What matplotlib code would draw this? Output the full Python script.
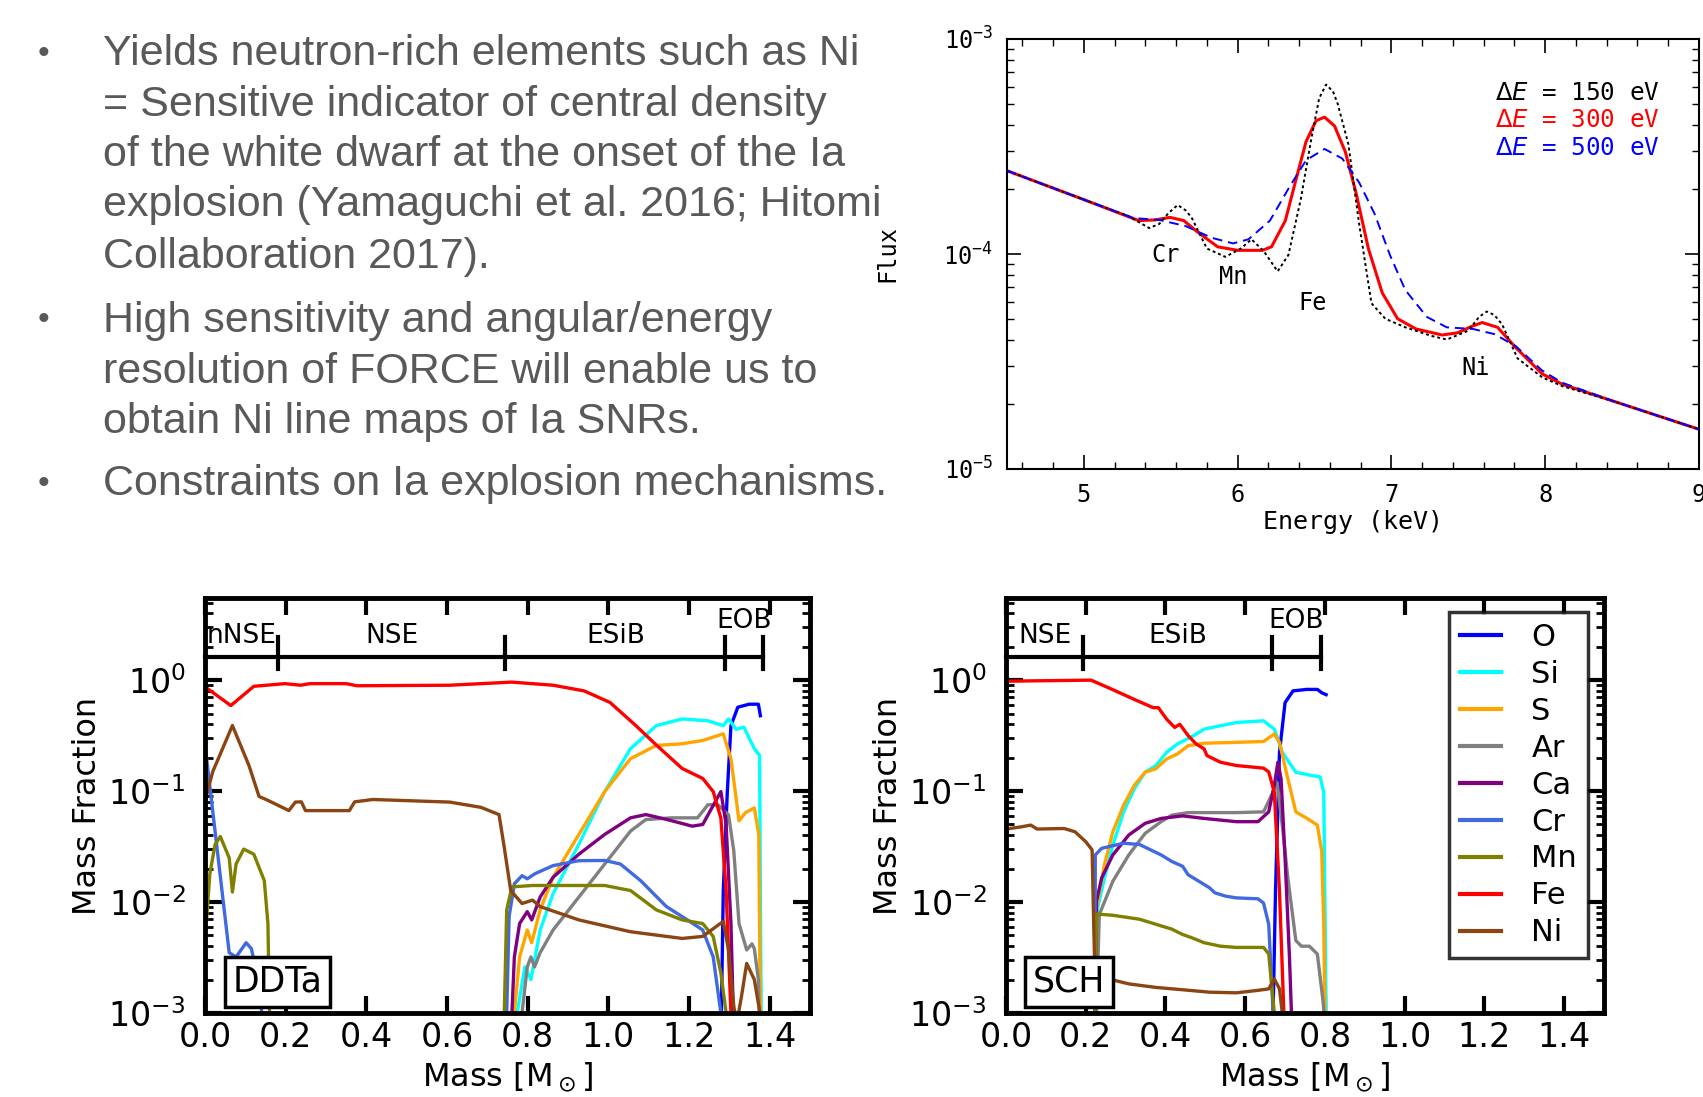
import matplotlib
matplotlib.use('Agg')
import matplotlib.pyplot as plt
from matplotlib.ticker import MultipleLocator, LogLocator, NullFormatter

# ---- bullet text ----
bullet_lines = [
    ["Yields neutron-rich elements such as Ni",
     "= Sensitive indicator of central density",
     "of the white dwarf at the onset of the Ia",
     "explosion (Yamaguchi et al. 2016; Hitomi",
     "Collaboration 2017)."],
    ["High sensitivity and angular/energy",
     "resolution of FORCE will enable us to",
     "obtain Ni line maps of Ia SNRs."],
    ["Constraints on Ia explosion mechanisms."],
]

# ---- spectrum (Flux in units of 1e-4) ----
e_150 = [4.5, 5.0, 5.29, 5.425, 5.49, 5.55, 5.61, 5.66, 5.70, 5.80, 5.92, 6.02, 6.09, 6.17, 6.26,
         6.33, 6.41, 6.48, 6.53, 6.575, 6.62, 6.65, 6.72, 6.79, 6.87, 6.96, 7.09, 7.26, 7.36, 7.50,
         7.57, 7.62, 7.67, 7.72, 7.82, 7.98, 8.11, 8.45, 9.0]
f_150 = [2.44, 1.79, 1.50, 1.32, 1.38, 1.55, 1.69, 1.60, 1.48, 1.06, 0.97, 1.06, 1.17, 1.03, 0.83,
         0.99, 1.79, 3.47, 5.3, 6.14, 5.7, 5.01, 3.24, 1.38, 0.59, 0.50, 0.456, 0.416, 0.40, 0.44,
         0.51, 0.54, 0.52, 0.47, 0.327, 0.267, 0.243, 0.206, 0.153]
e_300 = [4.5, 5.0, 5.357, 5.46, 5.56, 5.65, 5.73, 5.87, 6.00, 6.16, 6.22, 6.31, 6.38, 6.445, 6.51,
         6.565, 6.63, 6.70, 6.77, 6.85, 6.94, 7.04, 7.16, 7.33, 7.43, 7.52, 7.59, 7.69, 7.81, 7.98,
         8.11, 8.45, 9.0]
f_300 = [2.44, 1.79, 1.43, 1.44, 1.48, 1.43, 1.28, 1.08, 1.04, 1.04, 1.08, 1.43, 2.23, 3.34, 4.17,
         4.33, 3.94, 2.99, 1.92, 1.06, 0.66, 0.50, 0.448, 0.42, 0.43, 0.46, 0.48, 0.456, 0.366, 0.277,
         0.248, 0.206, 0.153]
e_500 = [4.5, 5.0, 5.32, 5.49, 5.66, 5.83, 5.97, 6.07, 6.21, 6.34, 6.445, 6.565, 6.68, 6.79, 6.89,
         6.99, 7.09, 7.23, 7.36, 7.53, 7.67, 7.81, 7.98, 8.11, 8.45, 9.0]
f_500 = [2.44, 1.79, 1.47, 1.44, 1.35, 1.19, 1.12, 1.17, 1.43, 2.07, 2.73, 3.08, 2.78, 2.15, 1.54,
         0.99, 0.68, 0.51, 0.456, 0.448, 0.424, 0.372, 0.287, 0.252, 0.206, 0.153]
line_names = ["Cr", "Mn", "Fe", "Ni"]
line_name_e = [5.53, 5.97, 6.49, 7.55]
line_name_f = [0.99, 0.78, 0.59, 0.295]

# ---- mass fractions, DDTa ----
ddt_o_m = [1.279, 1.285, 1.295, 1.304, 1.321, 1.349, 1.372, 1.377]
ddt_o_x = [0.0005, 0.0127, 0.099, 0.389, 0.57, 0.607, 0.607, 0.478]
ddt_si_m = [0.772, 0.774, 0.793, 0.808, 0.831, 0.863, 0.927, 0.991, 1.055, 1.119, 1.183, 1.247,
            1.285, 1.298, 1.317, 1.336, 1.362, 1.375, 1.378, 1.38]
ddt_si_x = [0.0005, 0.001, 0.0026, 0.002, 0.0056, 0.0119, 0.0332, 0.099, 0.241, 0.389, 0.447, 0.43,
            0.389, 0.447, 0.36, 0.377, 0.241, 0.21, 0.003, 0.0005]
ddt_s_m = [0.765, 0.767, 0.78, 0.799, 0.81, 0.831, 0.863, 0.927, 0.991, 1.055, 1.119, 1.183,
           1.234, 1.285, 1.304, 1.324, 1.34, 1.362, 1.373, 1.376, 1.378]
ddt_s_x = [0.0005, 0.001, 0.0032, 0.0056, 0.0043, 0.0085, 0.0167, 0.0407, 0.099, 0.196, 0.258,
           0.267, 0.286, 0.328, 0.196, 0.054, 0.064, 0.0705, 0.0407, 0.002, 0.0005]
ddt_ar_m = [0.784, 0.786, 0.799, 0.808, 0.817, 0.831, 0.863, 0.927, 0.991, 1.055, 1.093, 1.157,
            1.221, 1.247, 1.272, 1.298, 1.311, 1.324, 1.343, 1.356, 1.362, 1.372, 1.376]
ddt_ar_x = [0.0005, 0.001, 0.0026, 0.0032, 0.0026, 0.0035, 0.0056, 0.0111, 0.022, 0.0436, 0.0554,
            0.0574, 0.0574, 0.0754, 0.075, 0.061, 0.029, 0.0064, 0.0037, 0.0042, 0.0038, 0.002, 0.0005]
ddt_ca_m = [0.759, 0.761, 0.767, 0.78, 0.799, 0.81, 0.831, 0.863, 0.927, 0.991, 1.055, 1.093,
            1.145, 1.208, 1.234, 1.279, 1.292, 1.304, 1.312]
ddt_ca_x = [0.0005, 0.001, 0.0032, 0.0064, 0.0082, 0.0069, 0.0111, 0.0167, 0.027, 0.0407, 0.0574,
            0.0614, 0.0555, 0.0483, 0.05, 0.099, 0.05, 0.0064, 0.0005]
ddt_cr_m = [0.0, 0.004, 0.06, 0.077, 0.102, 0.115, 0.128, 0.141, 0.15,
            0.745, 0.748, 0.754, 0.767, 0.786, 0.799, 0.818, 0.863, 0.927, 0.991, 1.03, 1.08,
            1.144, 1.196, 1.234, 1.26, 1.279, 1.285]
ddt_cr_x = [0.22, 0.196, 0.0035, 0.0032, 0.0043, 0.0038, 0.0023, 0.001, 0.0005,
            0.0005, 0.001, 0.0074, 0.0146, 0.0173, 0.0162, 0.018, 0.0213, 0.0236, 0.0237, 0.022,
            0.0156, 0.0091, 0.0069, 0.0056, 0.0032, 0.001, 0.0005]
ddt_mn_m = [0.0, 0.004, 0.012, 0.025, 0.038, 0.06, 0.068, 0.077, 0.096, 0.121, 0.147, 0.156,
            0.16, 0.165,
            0.738, 0.742, 0.748, 0.761, 0.812, 0.991, 1.055, 1.119, 1.183, 1.234, 1.26, 1.279,
            1.292, 1.298]
ddt_mn_x = [0.02, 0.007, 0.018, 0.033, 0.039, 0.025, 0.0123, 0.022, 0.030, 0.027, 0.0156, 0.0064,
            0.001, 0.0005,
            0.0005, 0.001, 0.0085, 0.0137, 0.0141, 0.0141, 0.0127, 0.0085, 0.0069, 0.0064, 0.0049,
            0.0023, 0.001, 0.0005]
ddt_fe_m = [0.0, 0.006, 0.064, 0.121, 0.198, 0.237, 0.26, 0.35, 0.377, 0.607, 0.761, 0.863, 0.94,
            1.004, 1.068, 1.119, 1.183, 1.234, 1.26, 1.279, 1.292, 1.304, 1.31]
ddt_fe_x = [0.88, 0.84, 0.59, 0.88, 0.93, 0.90, 0.93, 0.93, 0.89, 0.90, 0.96, 0.90, 0.80, 0.63,
            0.39, 0.26, 0.16, 0.13, 0.099, 0.057, 0.0127, 0.001, 0.0005]
ddt_ni_m = [0.0, 0.006, 0.019, 0.068, 0.109, 0.134, 0.153, 0.208, 0.224, 0.239, 0.249, 0.358,
            0.371, 0.416, 0.607, 0.684, 0.729, 0.742, 0.758, 0.786, 0.812, 0.831, 0.927, 1.055,
            1.183, 1.234, 1.285, 1.298, 1.311, 1.318, 1.330, 1.343, 1.362, 1.375, 1.38]
ddt_ni_x = [0.08, 0.099, 0.149, 0.39, 0.17, 0.0895, 0.0835, 0.0667, 0.0796, 0.08, 0.0667, 0.0667,
            0.080, 0.084, 0.0796, 0.0714, 0.0614, 0.031, 0.0127, 0.0097, 0.0104, 0.0091, 0.0069,
            0.0054, 0.0047, 0.0049, 0.0067, 0.0037, 0.00116, 0.0008, 0.0014, 0.0028, 0.002,
            0.00105, 0.0005]
ddt_regions = ["nNSE", "NSE", "ESiB", "EOB"]
ddt_region_edges = [0.0, 0.182, 0.745, 1.29, 1.384]

# ---- mass fractions, SCH ----
sch_o_m = [0.669, 0.67, 0.676, 0.686, 0.70, 0.72, 0.754, 0.781, 0.792, 0.803]
sch_o_x = [0.0005, 0.001, 0.0125, 0.224, 0.627, 0.80, 0.825, 0.825, 0.77, 0.74]
sch_si_m = [0.226, 0.227, 0.23, 0.247, 0.268, 0.295, 0.322, 0.349, 0.376, 0.403, 0.43, 0.47,
            0.497, 0.578, 0.646, 0.673, 0.693, 0.727, 0.768, 0.788, 0.797, 0.803, 0.805]
sch_si_x = [0.0005, 0.001, 0.0089, 0.0164, 0.0327, 0.065, 0.105, 0.148, 0.17, 0.224, 0.266, 0.315,
            0.362, 0.415, 0.43, 0.362, 0.224, 0.148, 0.138, 0.134, 0.098, 0.001, 0.0005]
sch_s_m = [0.222, 0.223, 0.227, 0.247, 0.268, 0.295, 0.322, 0.349, 0.376, 0.403, 0.43, 0.457,
           0.497, 0.578, 0.646, 0.673, 0.686, 0.707, 0.727, 0.754, 0.781, 0.792, 0.797, 0.8, 0.802]
sch_s_x = [0.0005, 0.001, 0.0089, 0.0217, 0.043, 0.0746, 0.113, 0.148, 0.159, 0.195, 0.216, 0.257,
           0.27, 0.275, 0.28, 0.327, 0.275, 0.129, 0.065, 0.057, 0.0494, 0.0286, 0.0063, 0.001, 0.0005]
sch_ar_m = [0.226, 0.227, 0.234, 0.268, 0.308, 0.349, 0.389, 0.416, 0.457, 0.578, 0.646, 0.666,
            0.68, 0.693, 0.707, 0.727, 0.741, 0.761, 0.781, 0.795, 0.798, 0.8]
sch_ar_x = [0.0005, 0.001, 0.0077, 0.0154, 0.0266, 0.0416, 0.053, 0.0607, 0.064, 0.064, 0.065,
            0.0917, 0.12, 0.049, 0.0165, 0.0045, 0.004, 0.004, 0.0034, 0.0013, 0.001, 0.0005]
sch_ca_m = [0.222, 0.223, 0.227, 0.24, 0.268, 0.308, 0.349, 0.389, 0.443, 0.497, 0.578, 0.632,
            0.659, 0.673, 0.682, 0.69, 0.70, 0.711, 0.716, 0.718]
sch_ca_x = [0.0005, 0.001, 0.0102, 0.0165, 0.0266, 0.0402, 0.0512, 0.0567, 0.0598, 0.0567, 0.053,
            0.053, 0.065, 0.113, 0.182, 0.129, 0.0248, 0.0032, 0.001, 0.0005]
sch_cr_m = [0.222, 0.223, 0.224, 0.24, 0.295, 0.335, 0.389, 0.416, 0.443, 0.457, 0.47, 0.497,
            0.511, 0.524, 0.551, 0.578, 0.632, 0.646, 0.659, 0.67, 0.672]
sch_cr_x = [0.0005, 0.001, 0.0266, 0.0305, 0.0339, 0.033, 0.0266, 0.0232, 0.021, 0.0176, 0.0165,
            0.0144, 0.0134, 0.0121, 0.0113, 0.0109, 0.0107, 0.0098, 0.0063, 0.001, 0.0005]
sch_mn_m = [0.222, 0.223, 0.227, 0.268, 0.335, 0.389, 0.416, 0.443, 0.464, 0.497, 0.538, 0.578,
            0.646, 0.659, 0.673, 0.675]
sch_mn_x = [0.0005, 0.001, 0.0078, 0.0076, 0.007, 0.0061, 0.0057, 0.0051, 0.0048, 0.0043, 0.004,
            0.0039, 0.0039, 0.0034, 0.001, 0.0005]
sch_fe_m = [0.0, 0.011, 0.2135, 0.268, 0.322, 0.369, 0.382, 0.403, 0.423, 0.436, 0.457, 0.477,
            0.497, 0.504, 0.538, 0.578, 0.646, 0.659, 0.673, 0.686, 0.697, 0.70]
sch_fe_x = [0.98, 0.98, 1.0, 0.82, 0.67, 0.565, 0.565, 0.445, 0.375, 0.40, 0.316, 0.266, 0.24,
            0.209, 0.182, 0.17, 0.161, 0.149, 0.098, 0.0125, 0.001, 0.0005]
sch_ni_m = [0.0, 0.038, 0.062, 0.078, 0.146, 0.173, 0.2, 0.216, 0.22, 0.223, 0.24, 0.308, 0.376,
            0.443, 0.511, 0.578, 0.632, 0.659, 0.673, 0.686, 0.693, 0.696]
sch_ni_x = [0.0455, 0.0476, 0.0494, 0.0455, 0.046, 0.043, 0.035, 0.0295, 0.0063, 0.00225, 0.0021,
            0.00183, 0.0017, 0.00162, 0.00154, 0.00152, 0.0016, 0.00165, 0.00203, 0.00165, 0.001,
            0.0005]
sch_regions = ["NSE", "ESiB", "EOB"]
sch_region_edges = [0.0, 0.194, 0.667, 0.79]

species = ["O", "Si", "S", "Ar", "Ca", "Cr", "Mn", "Fe", "Ni"]
colors = ["#0000ff", "#00ffff", "#ffa500", "#808080", "#800080", "#4169e1", "#808000", "#ff0000",
          "#8b4513"]

ddt_data = [(ddt_o_m, ddt_o_x), (ddt_si_m, ddt_si_x), (ddt_s_m, ddt_s_x), (ddt_ar_m, ddt_ar_x),
            (ddt_ca_m, ddt_ca_x), (ddt_cr_m, ddt_cr_x), (ddt_mn_m, ddt_mn_x), (ddt_fe_m, ddt_fe_x),
            (ddt_ni_m, ddt_ni_x)]
sch_data = [(sch_o_m, sch_o_x), (sch_si_m, sch_si_x), (sch_s_m, sch_s_x), (sch_ar_m, sch_ar_x),
            (sch_ca_m, sch_ca_x), (sch_cr_m, sch_cr_x), (sch_mn_m, sch_mn_x), (sch_fe_m, sch_fe_x),
            (sch_ni_m, sch_ni_x)]

fig = plt.figure(figsize=(17.03, 10.97), dpi=100)

# ---- bullets ----
text_color = "#595959"
line_y = [[54, 105, 155, 205, 257], [321, 372, 422], [484]]
for para, ys in zip(bullet_lines, line_y):
    fig.text(38 / 1703, 1 - ys[0] / 1097, "\u2022", fontsize=24, color=text_color,
             family="Liberation Sans", va="center")
    for txt, y in zip(para, ys):
        fig.text(103 / 1703, 1 - y / 1097, txt, fontsize=31, color=text_color,
                 family="Liberation Sans", va="center")

# ---- spectrum ----
mono = "DejaVu Sans Mono"
ax = fig.add_axes([1007 / 1703, 1 - 469 / 1097, 692 / 1703, 430 / 1097])
ax.plot(e_300, [v * 1e-4 for v in f_300], color="red", lw=2.2, zorder=2)
ax.plot(e_150, [v * 1e-4 for v in f_150], color="black", ls=(0, (1.5, 1.5)), lw=1.4, zorder=3)
ax.plot(e_500, [v * 1e-4 for v in f_500], color="blue", ls=(0, (5, 3)), lw=1.4, zorder=4)
ax.set_yscale("log")
ax.set_xlim(4.5, 9)
ax.set_ylim(1e-5, 1e-3)
ax.xaxis.set_major_locator(MultipleLocator(1))
ax.xaxis.set_minor_locator(MultipleLocator(0.2))
ax.tick_params(which="both", direction="in", top=True, right=True, labelsize=17, pad=10)
ax.tick_params(which="major", length=10, width=1.2)
ax.tick_params(which="minor", length=5, width=1.0)
for lab in ax.get_xticklabels() + ax.get_yticklabels():
    lab.set_family(mono)
for s in ax.spines.values():
    s.set_linewidth(1.5)
ax.set_xlabel("Energy (keV)", family=mono, fontsize=18)
ax.set_ylabel("Flux", family=mono, fontsize=17)
ax.xaxis.set_label_coords(0.5, -0.095)
ax.yaxis.set_label_coords(-0.155, 0.5)
for name, e, f in zip(line_names, line_name_e, line_name_f):
    ax.text(e, f * 1e-4, name, family=mono, fontsize=17, ha="center", va="center")
for i, (lab, c) in enumerate(zip(["150", "300", "500"], ["black", "red", "blue"])):
    ax.text(0.705, 0.875 - i * 0.064, r"$\Delta E$ = " + lab + " eV", color=c, family=mono,
            fontsize=17.5, transform=ax.transAxes, va="center")


def mass_panel(rect, data, regions, edges, name, show_legend):
    a = fig.add_axes(rect)
    for (m, x), c, sp in zip(data, colors, species):
        a.plot(m, x, color=c, lw=2.4, label=sp)
    a.set_yscale("log")
    a.set_xlim(0, 1.5)
    a.set_ylim(1e-3, 5.5)
    a.xaxis.set_major_locator(MultipleLocator(0.2))
    a.yaxis.set_minor_locator(LogLocator(base=10, subs=range(2, 10), numticks=10))
    a.yaxis.set_minor_formatter(NullFormatter())
    a.set_yticks([1e-3, 1e-2, 1e-1, 1])
    a.tick_params(which="both", direction="in", top=True, right=True, labelsize=24)
    a.tick_params(which="major", length=12, width=3)
    a.tick_params(axis="x", which="major", pad=6)
    a.tick_params(axis="y", which="major", pad=14)
    a.tick_params(which="minor", length=6, width=2)
    for s in a.spines.values():
        s.set_linewidth(3.5)
    a.set_xlabel(r"Mass [M$_\odot$]", fontsize=23, labelpad=4)
    a.set_ylabel("Mass Fraction", fontsize=23, labelpad=4)
    # region bar
    a.plot([edges[0], edges[-1]], [1.6, 1.6], color="black", lw=3, clip_on=False)
    for e in edges[1:]:
        a.plot([e, e], [1.25, 2.45], color="black", lw=3)
    for i, r in enumerate(regions):
        xc = 0.5 * (edges[i] + edges[i + 1])
        y = 3.4 if r == "EOB" else 2.5
        a.text(xc, y, r, fontsize=19, ha="center", va="center")
    a.text(0.045, 0.075, name, transform=a.transAxes, fontsize=25, va="center", ha="left",
           bbox=dict(boxstyle="square,pad=0.22", fc="white", ec="black", lw=2.5))
    if show_legend:
        leg = a.legend(loc="upper right", bbox_to_anchor=(0.973, 0.966), borderaxespad=0,
                       fontsize=22, frameon=True, fancybox=False, handlelength=1.35,
                       labelspacing=0.26, handletextpad=1.0, borderpad=0.35)
        leg.get_frame().set_edgecolor("black")
        leg.get_frame().set_linewidth(2.5)
        for h in leg.get_lines():
            h.set_linewidth(3)
    return a


mass_panel([205 / 1703, 1 - 1013 / 1097, 605 / 1703, 415 / 1097], ddt_data, ddt_regions,
           ddt_region_edges, "DDTa", False)
mass_panel([1006 / 1703, 1 - 1013 / 1097, 598 / 1703, 415 / 1097], sch_data, sch_regions,
           sch_region_edges, "SCH", True)

fig.savefig("out.png", dpi=100)
